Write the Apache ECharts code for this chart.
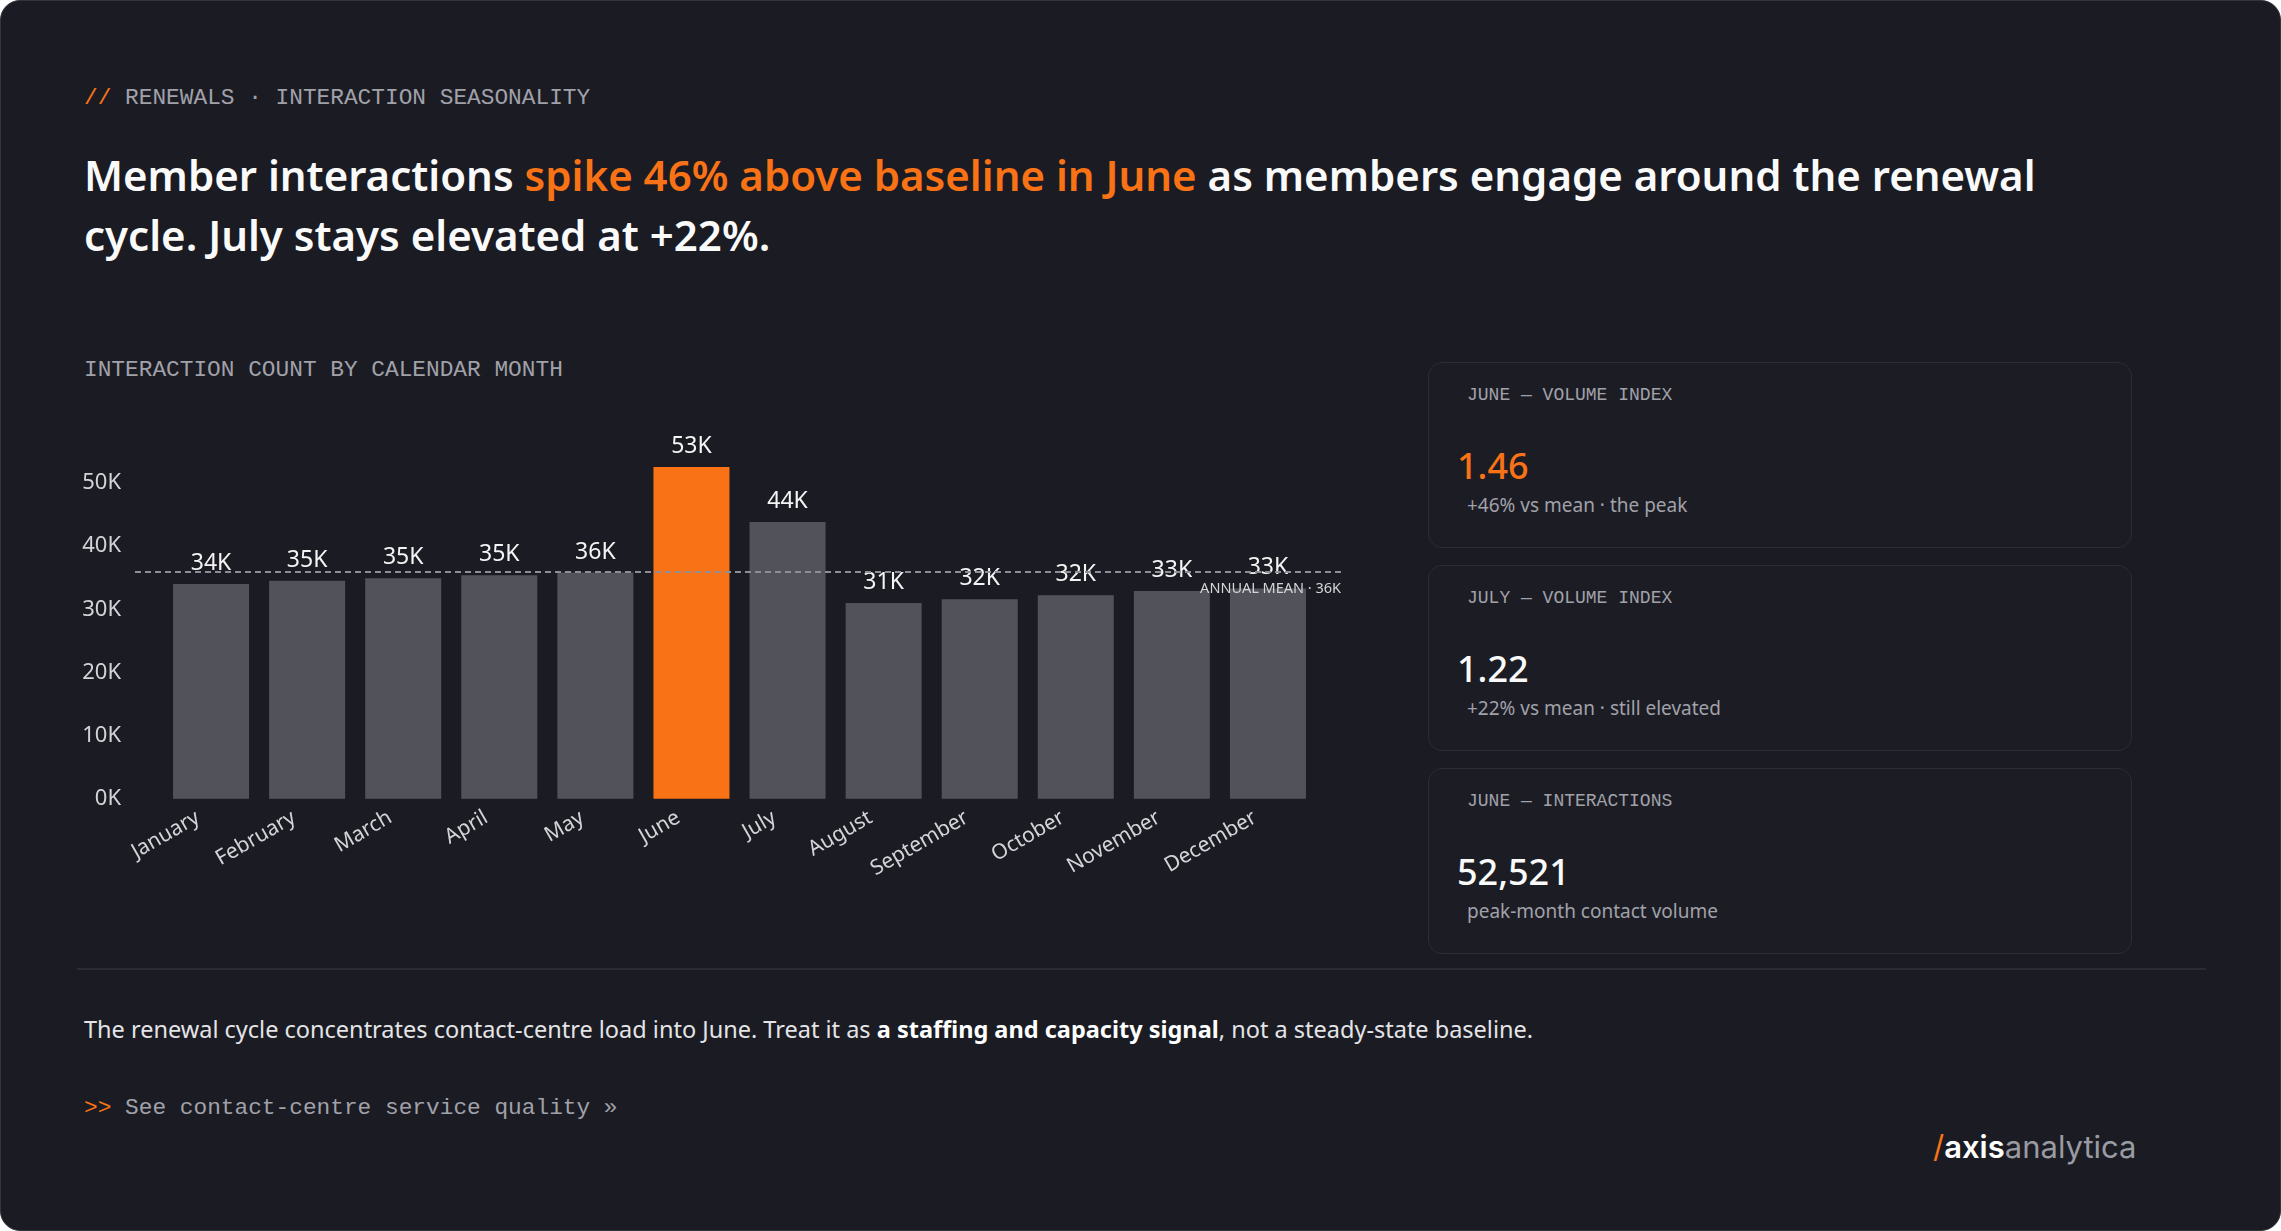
<!DOCTYPE html>
<html lang="en">
<head>
    <meta charset="UTF-8">
    <title>Renewals - interaction seasonality</title>
    <style>
        html, body { margin: 0; padding: 0; background: #ffffff; }
        .page {
            position: relative; width: 2281px; height: 1231px; box-sizing: border-box;
            background: #1b1c23; border: 1px solid #34353d; border-radius: 20px; overflow: hidden;
            font-family: "Noto Sans", sans-serif; color: #f4f4f5;
        }
        .mono { font-family: "Liberation Mono", "DejaVu Sans Mono", monospace; }
        .orange { color: #f97316; }
        .abs { position: absolute; white-space: nowrap; }
        .eyebrow { left: 83px; top: 84px; font-size: 22.8px; line-height: 26px; color: #a1a1aa; }
        h1 { position: absolute; left: 83px; top: 144px; margin: 0; font-size: 42px; line-height: 60px; font-weight: 600; color: #fafafa; white-space: nowrap; }
        .chart-title { left: 83px; top: 356px; font-size: 22.8px; line-height: 26px; color: #a1a1aa; }
        .card { position: absolute; left: 1427px; width: 704px; height: 186px; box-sizing: border-box; border: 1px solid #2b2c34; border-radius: 14px; background: #1c1d24; }
        .card .lbl { position: absolute; left: 38px; top: 21px; font-size: 18px; line-height: 22px; color: #a1a1aa; }
        .card .val { position: absolute; left: 28px; top: 82px; font-size: 36px; line-height: 42px; font-weight: 500; color: #fafafa; }
        .card .val.orange { color: #f97316; }
        .card .sub { position: absolute; left: 38px; top: 130px; font-size: 19px; line-height: 24px; color: #a1a1aa; }
        .divider { position: absolute; left: 76px; top: 967px; width: 2129px; height: 2px; background: #2a2b33; }
        .foot { left: 83px; top: 1013px; font-size: 23.5px; line-height: 30px; color: #e4e4e7; }
        .foot b { font-weight: 700; color: #ffffff; }
        .link { left: 83px; top: 1094px; font-size: 22.8px; line-height: 26px; color: #a1a1aa; }
        .logo { left: 1932px; top: 1127px; font-family: Inter, sans-serif; font-size: 31px; line-height: 38px; color: #9a9aa2; }
        .logo b { color: #ffffff; font-weight: 600; }
        #main { position: absolute; left: 0; top: 0; width: 2281px; height: 1231px; }
    </style>
</head>
<body>
<div class="page">
    <div class="abs eyebrow mono"><span class="orange">//</span> RENEWALS · INTERACTION SEASONALITY</div>
    <h1>Member interactions <span class="orange">spike 46% above baseline in June</span> as members engage around the renewal<br>cycle. July stays elevated at +22%.</h1>
    <div class="abs chart-title mono">INTERACTION COUNT BY CALENDAR MONTH</div>

    <div class="card" style="top:361px;">
        <div class="lbl mono">JUNE — VOLUME INDEX</div>
        <div class="val orange" id="juneIdx"></div>
        <div class="sub" id="juneSub"></div>
    </div>
    <div class="card" style="top:564px;">
        <div class="lbl mono">JULY — VOLUME INDEX</div>
        <div class="val" id="julyIdx"></div>
        <div class="sub" id="julySub"></div>
    </div>
    <div class="card" style="top:767px;">
        <div class="lbl mono">JUNE — INTERACTIONS</div>
        <div class="val" id="juneCount"></div>
        <div class="sub">peak-month contact volume</div>
    </div>

    <div class="divider"></div>
    <div class="abs foot">The renewal cycle concentrates contact-centre load into June. Treat it as <b>a staffing and capacity signal</b>, not a steady-state baseline.</div>
    <div class="abs link mono"><span class="orange">&gt;&gt;</span> See contact-centre service quality »</div>
    <div class="abs logo"><span class="orange">/</span><b>axis</b>analytica</div>

    <div id="main"></div>
</div>
<script type="text/javascript" src="https://cdn.jsdelivr.net/npm/echarts@6/dist/echarts.min.js"></script>
<script type="text/javascript">
    // data
    var months = ['January', 'February', 'March', 'April', 'May', 'June',
        'July', 'August', 'September', 'October', 'November', 'December'];
    var interactions = [34000, 34500, 34900, 35400, 35800, 52521, 43800, 31000, 31600, 32200, 32900, 33300];
    var peakMonth = 'June';
    var followMonth = 'July';

    var total = 0;
    for (var i = 0; i < interactions.length; i++) total += interactions[i];
    var mean = total / interactions.length;
    var peakVal = interactions[months.indexOf(peakMonth)];
    var followVal = interactions[months.indexOf(followMonth)];

    function kfmt(v) { return Math.round(v / 1000) + 'K'; }

    // side cards
    document.getElementById('juneIdx').textContent = (peakVal / mean).toFixed(2);
    document.getElementById('juneSub').textContent = '+' + Math.round((peakVal / mean - 1) * 100) + '% vs mean · the peak';
    document.getElementById('julyIdx').textContent = (followVal / mean).toFixed(2);
    document.getElementById('julySub').textContent = '+' + Math.round((followVal / mean - 1) * 100) + '% vs mean · still elevated';
    document.getElementById('juneCount').textContent = peakVal.toLocaleString('en-US');

    var myChart = echarts.init(document.getElementById('main'), null, {renderer: 'canvas'});

    var barData = interactions.map(function (v, idx) {
        return {
            value: v,
            itemStyle: {color: months[idx] === peakMonth ? '#f97316' : '#52525b'}
        };
    });

    myChart.setOption({
        animation: false,
        textStyle: {fontFamily: 'Noto Sans'},
        grid: {left: 162, width: 1153, top: 431.4, bottom: 433.3, containLabel: false},
        xAxis: {
            type: 'category',
            data: months,
            axisLine: {show: false},
            axisTick: {show: false},
            axisLabel: {rotate: 30, margin: 10, padding: [0, 15, 0, 0], fontSize: 21, color: '#d4d4d8'}
        },
        yAxis: {
            type: 'value',
            min: 0,
            max: 58000,
            interval: 10000,
            splitLine: {show: false},
            axisLine: {show: false},
            axisTick: {show: false},
            axisLabel: {
                showMaxLabel: false,
                margin: 42,
                fontSize: 22,
                color: '#d4d4d8',
                formatter: kfmt
            }
        },
        series: [{
            type: 'bar',
            barWidth: 76,
            data: barData,
            label: {
                show: true,
                position: 'top',
                distance: 9,
                fontSize: 23,
                color: '#f4f4f5',
                formatter: function (p) { return kfmt(p.value); }
            },
            markLine: {
                silent: true,
                symbol: 'none',
                lineStyle: {color: '#8e8e96', type: [6, 4], width: 2},
                label: {
                    position: 'insideEndBottom',
                    distance: [0, 10],
                    fontSize: 14.5,
                    color: '#d4d4d8',
                    formatter: 'ANNUAL MEAN · ' + kfmt(mean)
                },
                data: [[{x: 134, yAxis: mean}, {x: 1340, yAxis: mean}]]
            }
        }]
    });
</script>
</body>
</html>
